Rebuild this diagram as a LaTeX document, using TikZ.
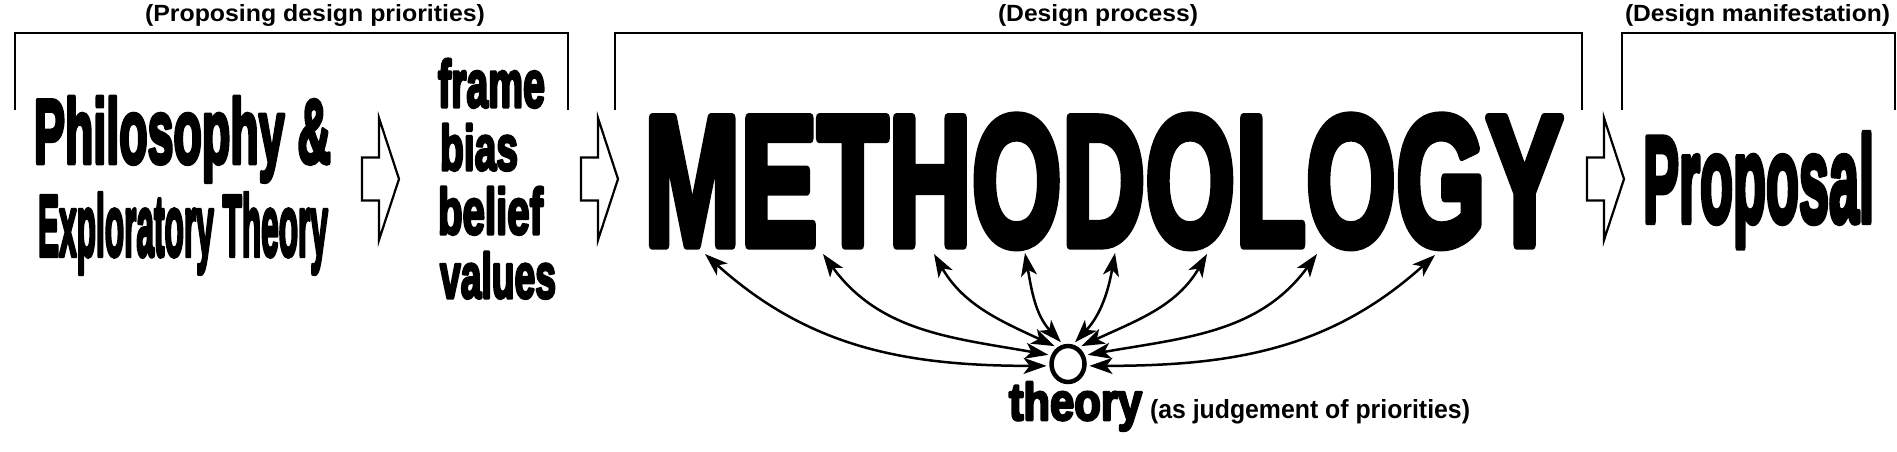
\documentclass[tikz,border=0pt]{standalone}
\usepackage{fontspec}
\usepackage{graphicx}
\setmainfont{Liberation Sans}
\newfontfamily\heavy[FakeBold=5]{Liberation Sans Bold}
\newfontfamily\labf{Liberation Sans Bold}
\usetikzlibrary{arrows.meta,shapes.geometric}
\newcommand\hv[3]{\resizebox{#1pt}{#2pt}{\heavy\fontsize{100pt}{100pt}\selectfont #3}}
\newcommand\lb[3]{\resizebox{#1pt}{#2pt}{\labf\fontsize{20pt}{20pt}\selectfont #3}}
\begin{document}
\begin{tikzpicture}[x=1pt,y=1pt,
  txt/.style={anchor=base west, inner sep=0pt, outer sep=0pt, line join=round},
  bracket/.style={line width=2.5pt, line join=miter},
  blockarr/.style={draw, line width=2.2pt, fill=white, line join=miter},
  link/.style={line width=2.5pt, {Stealth[length=23pt,width=16pt,inset=6pt]}-{Stealth[length=23pt,width=16pt,inset=6pt]}},
  blk/.pic={\draw[blockarr] (0,-21.5) -- (17,-21.5) -- (17,-61) -- (37,0) -- (17,61) -- (17,21.5) -- (0,21.5) -- cycle;}
]
\useasboundingbox (0,0) rectangle (1897,452);
\fill[white] (0,0) rectangle (1897,452);
\pgfsetroundjoin

% group labels
\node[txt] (lab1) at (145,430) {\lb{340}{17}{(Proposing design priorities)}};
\node[txt] (lab2) at (998,430) {\lb{200}{17}{(Design process)}};
\node[txt] (lab3) at (1625,430) {\lb{265}{17}{(Design manifestation)}};

% brackets
\draw[bracket] (15,342) -- (15,419) -- (568,419) -- (568,342);
\draw[bracket] (615,342) -- (615,419) -- (1582,419) -- (1582,342);
\draw[bracket] (1622,342) -- (1622,419) -- (1895,419) -- (1895,342);

% main texts
\node[txt] (phil) at (34,289) {\hv{297}{66}{Philosophy \&}};
\node[txt] (expl) at (38,196) {\hv{290}{63}{Exploratory Theory}};
\node[txt] (frame) at (438,345) {\hv{107}{48}{frame}};
\node[txt] (bias) at (440,282) {\hv{78}{46}{bias}};
\node[txt] (belief) at (438,218) {\hv{105}{47}{belief}};
\node[txt] (values) at (440,154) {\hv{116}{46}{values}};
\node[txt] (meth) at (644,207) {\hv{919}{129}{METHODOLOGY}};
\node[txt] (prop) at (1643,230) {\hv{231}{89}{Proposal}};
\node[txt] (theory) at (1009,32) {\hv{133}{38}{theory}};
\node[txt] (judg) at (1150,33) {\lb{320}{19}{(as judgement of priorities)}};

% block arrows
\pic at (362,273) {blk};
\pic at (581,273) {blk};
\pic at (1587,273) {blk};

% theory circle
\node[ellipse, draw, line width=4.5pt, minimum width=33pt, minimum height=36pt,
      inner sep=0pt, outer sep=5pt] (c) at (1068,88) {};

% targets under METHODOLOGY
\coordinate (m1) at (705,198);
\coordinate (m2) at (823,198);
\coordinate (m3) at (934,198);
\coordinate (m4) at (1025,199);
\coordinate (m5) at (1115,199);
\coordinate (m6) at (1207,198);
\coordinate (m7) at (1317,198);
\coordinate (m8) at (1435,197);

\draw[link] (m1) to[out=-42,in=180] (c.185);
\draw[link] (m2) to[out=-54,in=170] (c.155);
\draw[link] (m3) to[out=-60,in=155] (c.127);
\draw[link] (m4) to[out=-80,in=133] (c.108);
\draw[link] (m5) to[out=-100,in=47] (c.72);
\draw[link] (m6) to[out=-120,in=25] (c.53);
\draw[link] (m7) to[out=-126,in=10] (c.25);
\draw[link] (m8) to[out=-138,in=0] (c.-5);
\end{tikzpicture}
\end{document}
